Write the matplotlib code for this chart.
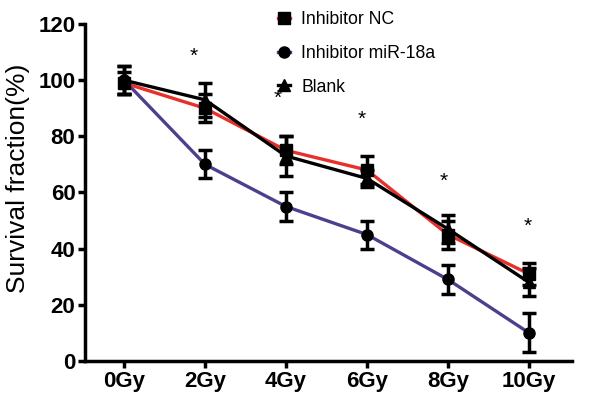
import matplotlib
matplotlib.use("Agg")
import matplotlib.pyplot as plt
from matplotlib.lines import Line2D
import numpy as np

plt.rcParams['font.family'] = ['Liberation Sans', 'DejaVu Sans']

categories = ["0Gy", "2Gy", "4Gy", "6Gy", "8Gy", "10Gy"]
nc_mean = [99, 90, 75, 68, 45, 31]
nc_err = [4, 5, 5, 5, 5, 4]
mir_mean = [100, 70, 55, 45, 29, 10]
mir_err = [5, 5, 5, 5, 5, 7]
blank_mean = [100, 93, 73, 65, 47, 28]
blank_err = [5, 6, 7, 3, 5, 5]
star_y = [108.5, 93.5, 86, 64, 48]
star_x = [0.86, 1.9, 2.93, 3.95, 4.99]

red = '#E8302A'
purple = '#4E3F8E'

fig = plt.figure(figsize=(6, 4.01), dpi=100)
ax = fig.add_axes([0.142, 0.1, 0.811, 0.84])
x = np.arange(len(categories))

common = dict(mfc='black', mec='black', ecolor='black', elinewidth=2.5,
              capsize=5, capthick=2.5, lw=2.4, ms=8)
ax.errorbar(x, mir_mean, yerr=mir_err, color=purple, marker='o', zorder=2, **common)
ax.errorbar(x, nc_mean, yerr=nc_err, color=red, marker='s', zorder=3, **common)
ax.errorbar(x, blank_mean, yerr=blank_err, color='black', marker='^', zorder=4, **common)

for sx, sy in zip(star_x, star_y):
    ax.text(sx, sy, '*', ha='center', va='center', fontsize=15)

ax.set_ylim(0, 120)
ax.set_xlim(-0.48, 5.53)
ax.set_yticks([0, 20, 40, 60, 80, 100, 120])
ax.set_xticks(x)
ax.set_xticklabels(categories)
for lab in ax.get_xticklabels() + ax.get_yticklabels():
    lab.set_fontweight('bold')
    lab.set_fontsize(16)
ax.set_ylabel('Survival fraction(%)', fontsize=19)
ax.yaxis.set_label_coords(-0.113, 0.543)
for s in ['top', 'right']:
    ax.spines[s].set_visible(False)
for s in ['left', 'bottom']:
    ax.spines[s].set_linewidth(2.5)
ax.tick_params(width=2.5, length=5, pad=2)

handles = [
    Line2D([], [], color=red, lw=2.4, marker='s', mfc='black', mec='black', ms=8),
    Line2D([], [], color=purple, lw=2.4, marker='o', mfc='black', mec='black', ms=8),
    Line2D([], [], color='black', lw=2.4, marker='^', mfc='black', mec='black', ms=8),
]
labels = ['Inhibitor NC', 'Inhibitor miR-18a', 'Blank']
fig.legend(handles, labels, loc='upper left', bbox_to_anchor=(0.437, 1.012),
           frameon=False, fontsize=12.7, handlelength=0.7,
           labelspacing=0.95, handletextpad=0.6)

fig.savefig('out.png', dpi=100)
